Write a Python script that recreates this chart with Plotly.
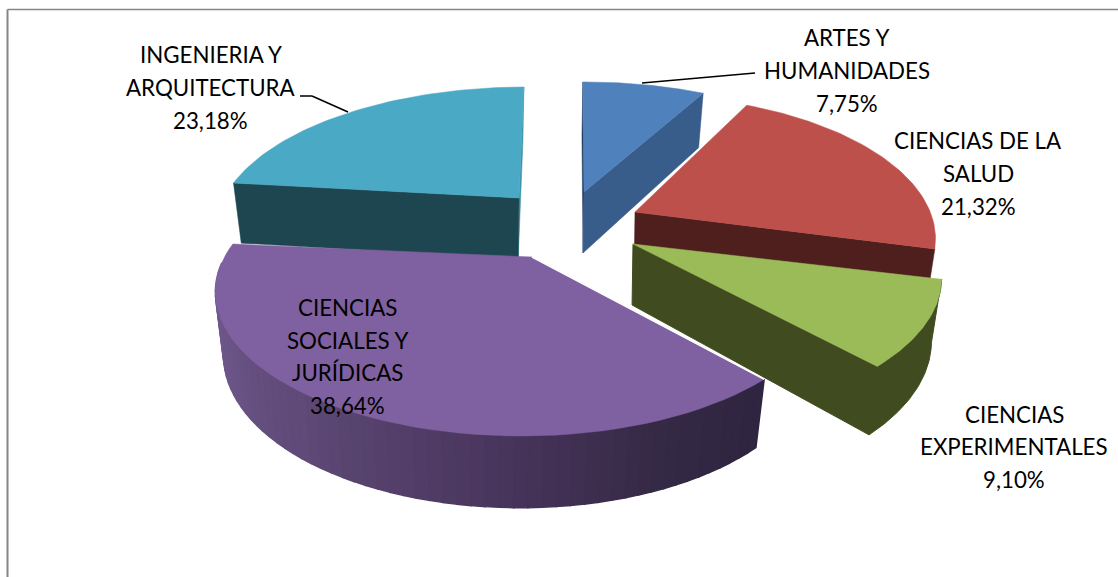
import math
import numpy as np
import plotly.graph_objects as go

# ---- data ----
categories = ["ARTES Y HUMANIDADES", "CIENCIAS DE LA SALUD", "CIENCIAS EXPERIMENTALES",
              "CIENCIAS SOCIALES Y JURÍDICAS", "INGENIERIA Y ARQUITECTURA"]
values = [7.75, 21.32, 9.10, 38.64, 23.18]
label_lines = [["ARTES Y", "HUMANIDADES", "7,75%"],
               ["CIENCIAS DE LA", "SALUD", "21,32%"],
               ["CIENCIAS", "EXPERIMENTALES", "9,10%"],
               ["CIENCIAS", "SOCIALES Y", "JURÍDICAS", "38,64%"],
               ["INGENIERIA Y", "ARQUITECTURA", "23,18%"]]

# ---- 3D pie projection (style/geometry) ----
START = -0.5
R, RB, K = 297.0, 136.0, 0.236
DEPTH, DEPTH_POW, SHRINK = 61.0, 0.6, 0.03
apex = [(584, 192), (635, 212), (633, 244), (532, 257), (519, 198)]
arc_center = [(585, 192), (636, 205), (636, 244), (521, 258), (526, 197)]
r_scale = [1.0, 0.98, 1.0, 1.0, 1.015]
# small per-slice perspective corrections (degrees) at each slice's two radial edges
nudge = [(0, 1.3), (0, 3.3), (0, 1.0), (0.5, 0), (0, 0)]
top_col = ["#4f81bd", "#be504c", "#9bbb59", "#7f60a0", "#4aa9c4"]
side_col = ["#385d8a", "#4f1f1e", "#404c20", "#332842", "#1d4650"]
label_pos = [(847, [37, 70, 103]), (978, [140, 173, 206]), (1014, [414, 446, 479]),
             (347, [307, 340, 372, 405]), (210.5, [54, 87, 120])]

total = sum(values)
edges = [START]
for v in values:
    edges.append(edges[-1] + 360 * v / total)
spans = [(edges[i] + nudge[i][0], edges[i + 1] + nudge[i][1]) for i in range(len(values))]


def rim(i, t_deg):
    t = math.radians(t_deg)
    p = 1 / (1 + K * math.cos(t))
    cx, cy = arc_center[i]
    return cx + R * r_scale[i] * math.sin(t) * p, cy - RB * math.cos(t) * p, p


def lower(x, y, p, i):
    cx = arc_center[i][0]
    return cx - 1 + (x - cx) * (1 - SHRINK), y + DEPTH * p ** DEPTH_POW


def arc(i, a, b, n=60):
    return [rim(i, t) for t in np.linspace(a, b, n)]


def poly(fig, pts, color, lw=0.5):
    xs = [q[0] for q in pts] + [pts[0][0]]
    ys = [q[1] for q in pts] + [pts[0][1]]
    fig.add_trace(go.Scatter(x=xs, y=ys, mode="lines", fill="toself", fillcolor=color,
                             line=dict(color=color, width=lw), hoverinfo="skip", showlegend=False))


def radial_face(fig, i, t, color, lw=0.5):
    x, y, p = rim(i, t)
    ax, ay = apex[i]
    a_low = lower(ax, ay, 1.0, i)
    poly(fig, [(ax, ay), (x, y), lower(x, y, p, i), a_low], color, lw)


def mix(stops, f):
    for (f0, c0), (f1, c1) in zip(stops, stops[1:]):
        if f <= f1:
            w = (f - f0) / (f1 - f0)
            return "rgb(%d,%d,%d)" % tuple(c0[j] + (c1[j] - c0[j]) * w for j in range(3))
    return "rgb(%d,%d,%d)" % stops[-1][1]


def outer_wall(fig, i, a, b, stops=None):
    if stops is None:
        pts = arc(i, a, b)
        up = [(x, y) for x, y, p in pts]
        lo = [lower(x, y, p, i) for x, y, p in pts]
        poly(fig, up + lo[::-1], side_col[i], lw=1)
    else:
        ts = np.linspace(a, b, 61)
        # painted from the far end so every strip overlaps the seam of its neighbour
        for k in range(len(ts) - 2, -1, -1):
            t0, t1 = ts[k], ts[k + 1]
            x0, y0, p0 = rim(i, t0)
            x1, y1, p1 = rim(i, t1)
            poly(fig, [(x0, y0), (x1, y1), lower(x1, y1, p1, i), lower(x0, y0, p0, i)],
                 mix(stops, (t0 - a) / (b - a)), lw=1.5)


def top(fig, i):
    a, b = spans[i]
    pts = [(x, y) for x, y, p in arc(i, a, b)]
    poly(fig, [apex[i]] + pts, top_col[i])


fig = go.Figure()

# ingenieria (back left)
radial_face(fig, 4, spans[4][1], "#3d93ab")
radial_face(fig, 4, spans[4][0], side_col[4])
top(fig, 4)
# artes
radial_face(fig, 0, spans[0][0], "#1f3a5e")
radial_face(fig, 0, spans[0][1], side_col[0])
top(fig, 0)
# salud
radial_face(fig, 1, spans[1][1], side_col[1])
top(fig, 1)
# experimentales
outer_wall(fig, 2, spans[2][0], spans[2][1])
radial_face(fig, 2, spans[2][1], side_col[2], lw=1)
top(fig, 2)
# sociales (front) with a shaded wall
purple_stops = [(0.0, (0x2f, 0x25, 0x40)), (0.15, (0x35, 0x2a, 0x46)), (0.32, (0x47, 0x34, 0x5a)),
                (0.6, (0x5f, 0x4a, 0x78)), (1.0, (0x7a, 0x60, 0x98))]
outer_wall(fig, 3, spans[3][0], spans[3][1] - 8, purple_stops)
top(fig, 3)
# white seam along the purple front-right edge
sx, sy, _ = rim(3, spans[3][0])
fig.add_trace(go.Scatter(x=[apex[3][0], sx], y=[apex[3][1], sy], mode="lines",
                         line=dict(color="white", width=1.5), hoverinfo="skip", showlegend=False))

# labels
annotations = []
for (cx, ys), lines in zip(label_pos, label_lines):
    for yy, txt in zip(ys, lines):
        annotations.append(dict(x=cx, y=yy, xref="x", yref="y", text=txt, showarrow=False,
                                xanchor="center", yanchor="middle",
                                font=dict(family="Lato, Carlito, sans-serif", size=22.3, color="#000000")))

# leader lines and chart frame
shapes = [
    dict(type="line", x0=642, y0=83, x1=755, y1=73, line=dict(color="#000000", width=1.5), layer="above"),
    dict(type="line", x0=300, y0=96, x1=312, y1=96, line=dict(color="#000000", width=1.5), layer="above"),
    dict(type="line", x0=312, y0=96, x1=348, y1=112, line=dict(color="#000000", width=1.5), layer="above"),
    dict(type="line", x0=7.5, y0=9.5, x1=7.5, y1=577, line=dict(color="#868686", width=2)),
    dict(type="line", x0=7.5, y0=9.5, x1=1118, y1=9.5, line=dict(color="#868686", width=1.5)),
]

fig.update_layout(
    width=1118, height=577, margin=dict(l=0, r=0, t=0, b=0),
    paper_bgcolor="white", plot_bgcolor="white", showlegend=False,
    xaxis=dict(range=[0, 1118], visible=False, fixedrange=True),
    yaxis=dict(range=[577, 0], visible=False, fixedrange=True),
    annotations=annotations, shapes=shapes,
)

fig.write_html("out.html", config={"displayModeBar": False},
               post_script="document.body.style.margin='0';document.body.style.overflow='hidden';")
